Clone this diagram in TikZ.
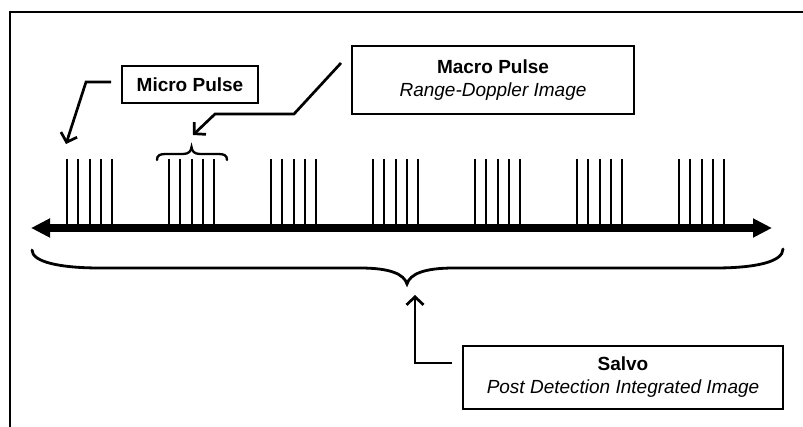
\documentclass[tikz,border=0pt]{standalone}
\usepackage{fontspec}
\setmainfont{Liberation Sans}
\usetikzlibrary{arrows.meta}
\tikzset{
  box/.style={draw=black, line width=2pt, align=center, inner sep=0pt, font=\fontsize{19}{23}\selectfont},
  callout/.style={line width=2.7pt, -{Straight Barb[length=8pt,width=17pt,line width=2.7pt]}},
  pulse/.style={line width=2pt},
  axisline/.style={line width=7.5pt, {Triangle[length=19pt,width=18pt]}-{Triangle[length=19pt,width=18pt]}},
  bracestyle/.style={line width=2.8pt, line cap=round},
  framestyle/.style={line width=2.2pt}
}
\begin{document}
\begin{tikzpicture}[x=1pt,y=-1pt]
\useasboundingbox (0,0) rectangle (803,427);
% frame
\draw[framestyle] (10,427) -- (10,12) -- (803,12);
% boxes
\node[box, minimum width=136pt, minimum height=37pt] (mic) at (190,84.5) {\textbf{Micro Pulse}};
\node[box, minimum width=282pt, minimum height=68pt] (mac) at (493,80) {\textbf{Macro Pulse}\\\textit{Range-Doppler Image}};
\node[box, minimum width=320pt, minimum height=63pt] (sal) at (623,377.5) {\textbf{Salvo}\\\textit{Post Detection Integrated Image}};
% axis
\coordinate (axl) at (31,228);
\coordinate (axr) at (772,228);
\draw[axisline] (axl) -- (axr);
% pulses
\foreach \g in {0,...,6}{
  \foreach \k in {0,...,4}{
    \draw[pulse] ({67+102*\g+11.25*\k},159) -- ({67+102*\g+11.25*\k},227);
  }
}
% small brace
\draw[line width=2.3pt, line cap=round] (157,160) .. controls (157,155) and (160,154) .. (166,154) -- (183,154) .. controls (189,154) and (191,151) .. (191.5,147) .. controls (192,151) and (194,154) .. (200,154) -- (218,154) .. controls (224,154) and (227,155) .. (227,160);
% big brace
\draw[bracestyle] (32,250) .. controls (32,262) and (60,268) .. (100,268) -- (360,268) .. controls (390,268) and (404,274) .. (407,284) .. controls (410,274) and (424,268) .. (454,268) -- (715,268) .. controls (755,268) and (783,262) .. (783,249);
% callouts
\coordinate (micA) at (86,82);
\coordinate (micT) at (66,144);
\draw[callout] ([xshift=-10pt]mic.west |- micA) -- (micA) -- (micT);
\coordinate (macS) at (341,63);
\coordinate (macA) at (294,114);
\coordinate (macB) at (215,114);
\coordinate (macT) at (193,135);
\draw[callout] (macS) -- (macA) -- (macB) -- (macT);
\coordinate (salA) at (415,363);
\coordinate (salT) at (415,295);
\draw[callout] ([xshift=-10pt]sal.west |- salA) -- (salA) -- (salT);
\end{tikzpicture}
\end{document}
